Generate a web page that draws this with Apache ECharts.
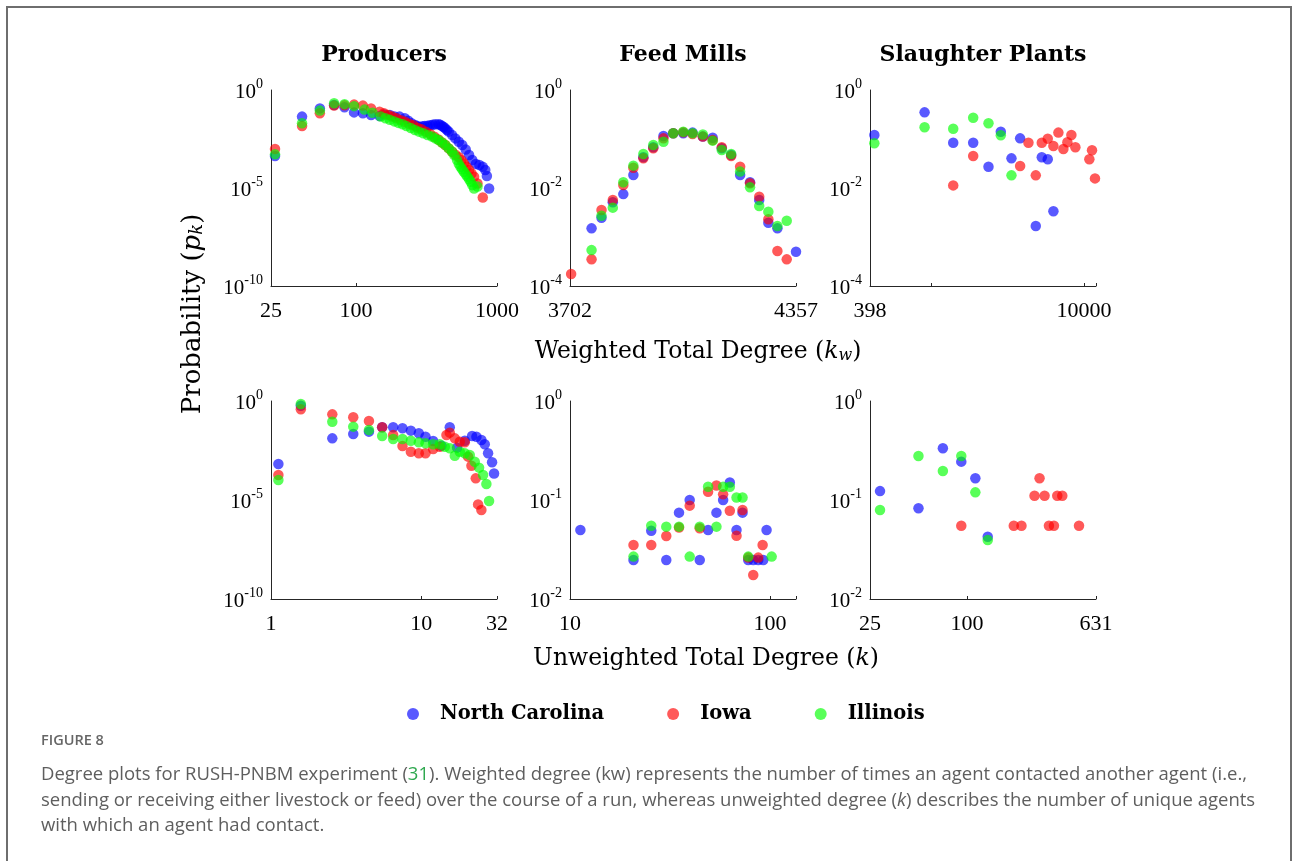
<!DOCTYPE html>
<html>
<head>
<meta charset="utf-8">
<script src="https://cdn.jsdelivr.net/npm/echarts@6/dist/echarts.min.js"></script>
<style>
html, body { margin: 0; padding: 0; background: #fff; }
#chart { width: 1293px; height: 861px; }
</style>
</head>
<body>
<div id="chart"></div>
<script>
// values, [degree, probability]
// Producers (weighted degree)
const prodNC = [[26.7,4.3e-4],[41.5,0.044],[55.5,0.115],[70,0.17],[83,0.13],[97,0.072],[112,0.065],[128,0.053],[147,0.047],[159,0.057],[174,0.053],[188,0.044],[204,0.044],[222,0.036],[235,0.027],[248,0.020],[262,0.016],[270,0.015],[284,0.013],[296,0.014],[308,0.0145],[322,0.015],[336,0.016],[350,0.017],[365,0.018],[385,0.018],[396,0.017],[408,0.0145],[419,0.013],[430,0.011],[442,0.009],[455,0.0075],[481,0.005],[507,0.0034],[536,0.0023],[567,0.00155],[600,9.3e-4],[634,4.8e-4],[668,2.7e-4],[708,1.7e-4],[750,1.5e-4],[793,1.2e-4],[826,8.3e-5],[848,4.1e-5],[879,9.5e-6]];
const prodIA = [[26.7,9.8e-4],[41.5,0.0145],[55.5,0.065],[70,0.16],[83,0.165],[97,0.18],[112,0.16],[128,0.115],[147,0.078],[158,0.065],[169,0.053],[181,0.044],[194,0.036],[208,0.029],[222,0.024],[238,0.019],[255,0.016],[273,0.012],[292,0.0098],[313,0.0075],[336,0.0057],[360,0.0041],[385,0.003],[408,0.0021],[430,0.00155],[455,0.00105],[481,7.1e-4],[508,5.0e-4],[536,3.7e-4],[560,2.6e-4],[582,1.8e-4],[608,1.2e-4],[634,8.3e-5],[660,5.5e-5],[688,3.8e-5],[727,1.7e-5],[793,3.3e-6]];
const prodIL = [[26.7,5.2e-4],[41.5,0.02],[55.5,0.089],[70,0.21],[83,0.19],[97,0.15],[115,0.10],[131,0.069],[150,0.044],[162,0.036],[174,0.03],[187,0.025],[200,0.021],[214,0.018],[228,0.0145],[245,0.0115],[262,0.0091],[280,0.0075],[300,0.0062],[322,0.005],[346,0.0042],[365,0.0034],[385,0.0028],[408,0.0021],[430,0.00155],[455,0.00105],[481,7.1e-4],[500,4.6e-4],[521,2.7e-4],[536,1.7e-4],[551,1.2e-4],[566,9e-5],[582,6.8e-5],[600,5e-5],[617,3.8e-5],[634,2.8e-5],[651,2.1e-5],[668,1.4e-5],[688,9.5e-6],[727,1.2e-5]];
// Feed mills (weighted degree)
const feedNC = [[3760,1.5e-3],[3787,2.48e-3],[3818,5.1e-3],[3847,7.5e-3],[3875,0.0184],[3903,0.0423],[3931,0.0676],[3960,0.115],[3988,0.131],[4017,0.131],[4044,0.135],[4074,0.112],[4103,0.106],[4130,0.0645],[4158,0.0471],[4185,0.0184],[4215,0.0131],[4243,5.7e-3],[4271,1.96e-3],[4299,1.5e-3],[4357,5.0e-4]];
const feedIA = [[3705,1.76e-4],[3760,3.5e-4],[3787,3.56e-3],[3818,5.7e-3],[3847,0.0115],[3875,0.026],[3903,0.0403],[3931,0.0645],[3960,0.103],[3988,0.131],[4017,0.137],[4044,0.126],[4074,0.112],[4103,0.0955],[4130,0.0676],[4158,0.045],[4185,0.0272],[4215,0.01245],[4243,6.65e-3],[4271,2.3e-3],[4299,5.2e-4],[4328,3.5e-4]];
const feedIL = [[3760,5.4e-4],[3787,2.72e-3],[3818,3.97e-3],[3847,0.0131],[3875,0.0286],[3903,0.0494],[3931,0.0755],[3960,0.0882],[3988,0.131],[4017,0.141],[4044,0.131],[4074,0.124],[4103,0.0925],[4130,0.0597],[4158,0.0494],[4185,0.0216],[4215,0.0103],[4243,4.3e-3],[4271,3.29e-3],[4299,1.67e-3],[4328,2.15e-3]];
// Slaughter plants (weighted degree)
const slaughNC = [[425,0.121],[906,0.35],[1395,0.084],[1885,0.084],[2374,0.0272],[2858,0.141],[3356,0.0403],[3824,0.103],[4842,1.68e-3],[5300,0.0423],[5799,0.0385],[6315,3.34e-3]];
const slaughIA = [[1395,0.0113],[1885,0.045],[3824,0.0281],[4335,0.084],[4842,0.0181],[5300,0.084],[5799,0.1016],[6315,0.072],[6808,0.135],[7340,0.0625],[7796,0.0855],[8279,0.121],[8795,0.0676],[10855,0.0385],[11300,0.0587],[11821,0.0157]];
const slaughIL = [[425,0.0816],[906,0.173],[1395,0.1625],[1885,0.272],[2374,0.209],[2858,0.119],[3356,0.0181]];
// Producers (unweighted degree)
const prodNCk = [[1.12,6.6e-4],[1.58,0.58],[2.56,0.013],[3.53,0.0216],[4.49,0.0283],[5.5,0.0468],[6.51,0.0468],[7.51,0.0417],[8.54,0.0318],[9.65,0.0233],[10.69,0.0158],[12.02,0.00955],[13.66,0.00555],[15.51,0.0468],[17.36,0.0044],[19.52,0.0099],[21.84,0.0171],[23.34,0.0158],[25.19,0.0107],[26.52,0.00648],[27.91,0.00228],[29.67,8.0e-4],[30.59,2.2e-4]];
const prodIAk = [[1.12,1.83e-4],[1.58,0.38],[2.56,0.212],[3.53,0.15],[4.49,0.0977],[5.5,0.0468],[6.51,0.0192],[7.51,0.00534],[8.54,0.00276],[9.65,0.00228],[10.69,0.00228],[12.02,0.00377],[13.31,0.00494],[14.74,0.0192],[15.51,0.0252],[16.75,0.013],[18.08,0.00883],[19.52,0.00817],[20.54,0.00155],[21.62,5.4e-4],[23.1,1.24e-4],[23.94,6.0e-6],[25.19,3.1e-6]];
const prodILk = [[1.12,1.02e-4],[1.58,0.705],[2.56,0.0904],[3.53,0.0506],[4.49,0.0343],[5.5,0.0171],[6.51,0.012],[7.51,0.012],[8.54,0.0099],[9.65,0.00817],[10.69,0.00728],[12.02,0.00648],[13.31,0.00648],[14.37,0.00494],[15.51,0.00407],[16.75,0.00173],[18.08,0.00276],[19.52,0.00228],[21.07,0.00187],[22.75,8.6e-4],[24.31,4.3e-4],[25.85,1.83e-4],[27.2,6.4e-5],[28.34,8.9e-6]];
// Feed mills (unweighted degree)
const feedNCk = [[11.27,0.0498],[20.78,0.0248],[25.49,0.049],[30.31,0.0248],[35.09,0.0745],[39.69,0.1],[44.55,0.0248],[49.05,0.0498],[54.01,0.0745],[58.32,0.1],[63,0.15],[68.06,0.0498],[72.93,0.0745],[77.87,0.0248],[82.5,0.0248],[87.4,0.0248],[92.6,0.0248],[96.2,0.0498]];
const feedIAk = [[20.78,0.0351],[25.49,0.0351],[30.31,0.0433],[35.09,0.0526],[39.69,0.0877],[44.55,0.0518],[49.05,0.121],[54.01,0.14],[58.32,0.114],[63,0.078],[68.06,0.0436],[72.93,0.0792],[77.87,0.0262],[82.5,0.0175],[87.4,0.0262],[91.9,0.0351]];
const feedILk = [[20.78,0.0268],[25.49,0.055],[30.31,0.0538],[35.09,0.0538],[39.69,0.0268],[44.55,0.0538],[49.05,0.136],[54.01,0.0538],[58.32,0.136],[63,0.136],[68.06,0.106],[72.93,0.106],[77.87,0.0268],[102,0.0268]];
// Slaughter plants (unweighted degree)
const slaughNCk = [[28.85,0.123],[49.96,0.0824],[70.8,0.333],[92.1,0.244],[112.6,0.1656],[134.4,0.0426]];
const slaughIAk = [[92.1,0.055],[195,0.055],[217.6,0.055],[262.2,0.1106],[281.7,0.1656],[302.7,0.1106],[322.1,0.055],[346,0.055],[362.8,0.1106],[389.8,0.1106],[495,0.055]];
const slaughILk = [[28.85,0.0792],[49.96,0.278],[70.8,0.196],[92.1,0.278],[112.6,0.1195],[134.4,0.0394]];

const stateNames = ['North Carolina', 'Iowa', 'Illinois'];
const panelTitles = ['Producers', 'Feed Mills', 'Slaughter Plants'];
const xTickLabels = [[25, 100, 1000], [3702, 4357], [398, 10000], [1, 10, 32], [10, 100], [25, 100, 631]];
const yTickExps = [[0, -5, -10], [0, -2, -4], [0, -2, -4], [0, -5, -10], [0, -1, -2], [0, -1, -2]];
const xLimits = [[25, 1000], [3702, 4357], [398, 12000], [1, 32], [10, 135], [25, 631]];
// 1.0001e-10 instead of 1e-10 so the log axis keeps one tick per decade
const yLimits = [[1.0001e-10, 1], [1e-4, 1], [1e-4, 1], [1.0001e-10, 1], [1e-2, 1], [1e-2, 1]];
const panelData = [
    [prodNC, prodIA, prodIL], [feedNC, feedIA, feedIL], [slaughNC, slaughIA, slaughIL],
    [prodNCk, prodIAk, prodILk], [feedNCk, feedIAk, feedILk], [slaughNCk, slaughIAk, slaughILk]
];

const colors = ['#0000ff', '#ff0000', '#00ff00'];
const serif = 'DejaVu Serif';
const tickFont = 'Liberation Serif';
const gridLeft = [271, 570, 870];
const gridTop = [90, 401];
const axisColor = '#262626';

const chart = echarts.init(document.getElementById('chart'));

const grids = [], xAxes = [], yAxes = [], series = [];
for (let i = 0; i < 6; i++) {
    const row = Math.floor(i / 3), col = i % 3;
    grids.push({ left: gridLeft[col], top: gridTop[row], width: 226, height: row ? 198 : 196 });
    const xt = xTickLabels[i];
    xAxes.push({
        type: 'log', gridIndex: i, min: xLimits[i][0], max: xLimits[i][1],
        axisLine: { onZero: false, lineStyle: { color: axisColor, width: 1 } },
        axisTick: { show: true, inside: true, length: 3, lineStyle: { color: axisColor } },
        splitLine: { show: false },
        axisLabel: {
            showMinLabel: true, showMaxLabel: true, margin: 14,
            fontFamily: tickFont, fontSize: 22, color: '#000',
            formatter: function (v) {
                for (const t of xt) { if (Math.abs(v / t - 1) < 0.005) return String(t); }
                return '';
            }
        }
    });
    const ye = yTickExps[i];
    yAxes.push({
        type: 'log', gridIndex: i, min: yLimits[i][0], max: yLimits[i][1], splitNumber: 10,
        axisLine: { show: true, onZero: false, lineStyle: { color: axisColor, width: 1 } },
        axisTick: { show: false },
        splitLine: { show: false },
        axisLabel: {
            showMinLabel: true, showMaxLabel: true, margin: 8,
            formatter: function (v) {
                const lg = Math.log10(v), e = Math.round(lg);
                if (Math.abs(lg - e) > 0.01 || ye.indexOf(e) < 0) return '';
                return '{b|10}{s|' + e + '}';
            },
            rich: {
                b: { fontFamily: tickFont, fontSize: 21, color: '#000', lineHeight: 26, verticalAlign: 'bottom' },
                s: { fontFamily: tickFont, fontSize: 14, color: '#000', lineHeight: 16, verticalAlign: 'top' }
            }
        }
    });
    for (let s = 0; s < 3; s++) {
        series.push({
            type: 'scatter', name: stateNames[s], xAxisIndex: i, yAxisIndex: i,
            data: panelData[i][s], symbolSize: 10.5, silent: true,
            itemStyle: { color: colors[s], opacity: 0.65 }
        });
    }
}

const textEl = (x, y, rich, text, extra) => Object.assign({
    type: 'text', x: x, y: y, silent: true,
    style: { text: text, rich: rich, textAlign: 'center', textVerticalAlign: 'middle', fill: '#000' }
}, extra || {});

const makeNameRich = (size) => ({
    n: { fontFamily: serif, fontSize: size, fill: '#000' },
    i: { fontFamily: serif, fontStyle: 'italic', fontSize: size, fill: '#000' },
    sub: { fontFamily: serif, fontStyle: 'italic', fontSize: Math.round(size * 0.68), fill: '#000', verticalAlign: 'bottom', lineHeight: Math.round(size * 0.8) }
});
const capRich = {
    a: { fontFamily: 'Open Sans', fontSize: 18.5, fill: '#5e5e5e' },
    g: { fontFamily: 'Open Sans', fontSize: 18.5, fill: '#2fa84f' },
    it: { fontFamily: 'Open Sans', fontStyle: 'italic', fontSize: 18.5, fill: '#5e5e5e' }
};
const titleRich = { t: { fontFamily: serif, fontWeight: 'bold', fontSize: 22, fill: '#000' } };

const graphics = [
    { type: 'rect', silent: true, shape: { x: 7, y: 7, width: 1284, height: 900 }, style: { fill: 'none', stroke: '#6e6e6e', lineWidth: 2 } },
    textEl(384, 55, titleRich, '{t|' + panelTitles[0] + '}'),
    textEl(683, 55, titleRich, '{t|' + panelTitles[1] + '}'),
    textEl(983, 55, titleRich, '{t|' + panelTitles[2] + '}'),
    textEl(698, 352, makeNameRich(23.5), '{n|Weighted Total Degree (}{i|k}{sub|w}{n|)}'),
    textEl(706, 659, makeNameRich(23.5), '{n|Unweighted Total Degree (}{i|k}{n|)}'),
    textEl(193, 314, makeNameRich(26), '{n|Probability (}{i|p}{sub|k}{n|)}', { rotation: Math.PI / 2 }),
    { type: 'text', x: 41, y: 741, silent: true, style: { text: 'FIGURE 8', fontFamily: 'Open Sans', fontWeight: 600, fontSize: 14.5, fill: '#666', textVerticalAlign: 'middle' } },
    { type: 'text', x: 41, y: 775, silent: true, style: { text: '{a|Degree plots for RUSH-PNBM experiment (}{g|31}{a|). Weighted degree (kw) represents the number of times an agent contacted another agent (i.e.,}', rich: capRich, textVerticalAlign: 'middle' } },
    { type: 'text', x: 41, y: 801, silent: true, style: { text: '{a|sending or receiving either livestock or feed) over the course of a run, whereas unweighted degree (}{it|k}{a|) describes the number of unique agents}', rich: capRich, textVerticalAlign: 'middle' } },
    { type: 'text', x: 41, y: 826, silent: true, style: { text: '{a|with which an agent had contact.}', rich: capRich, textVerticalAlign: 'middle' } }
];

chart.setOption({
    animation: false,
    backgroundColor: '#fff',
    grid: grids,
    xAxis: xAxes,
    yAxis: yAxes,
    legend: {
        data: stateNames, left: 402, top: 699, icon: 'circle',
        itemWidth: 44, itemHeight: 12, itemGap: 63, selectedMode: false,
        textStyle: { fontFamily: serif, fontWeight: 'bold', fontSize: 19.5, color: '#000' }
    },
    graphic: graphics,
    series: series
});
</script>
</body>
</html>
